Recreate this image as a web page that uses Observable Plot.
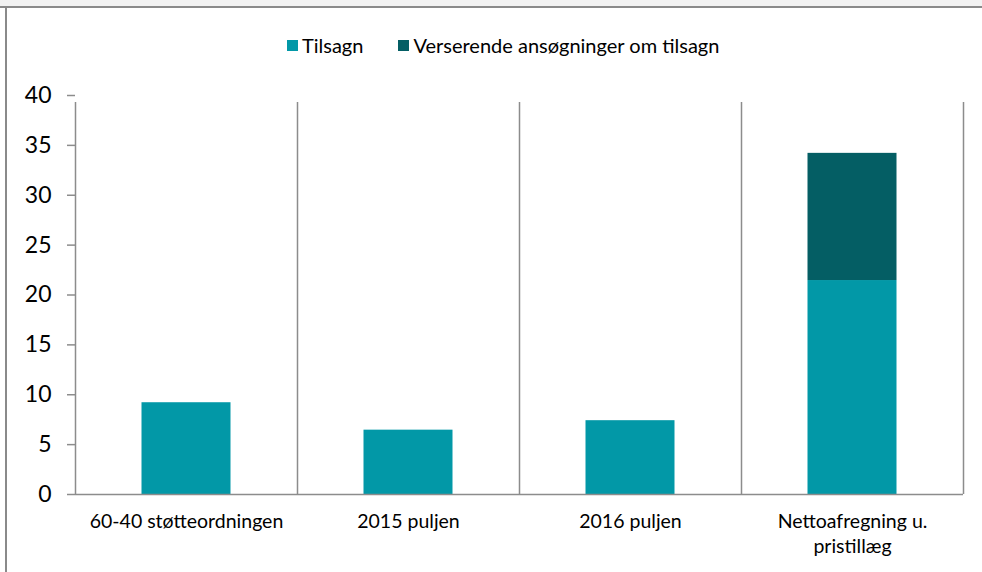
<!DOCTYPE html>
<html><head><meta charset="utf-8">
<script src="https://cdn.jsdelivr.net/npm/d3@7"></script>
<script src="https://cdn.jsdelivr.net/npm/@observablehq/plot@0.6"></script>
<style>
html,body{margin:0;padding:0;background:#fff;font-family:Lato, sans-serif;overflow:hidden;}
#wrap{position:relative;width:982px;height:572px;overflow:hidden;background:#fff;}
#band{position:absolute;left:0;top:0;width:982px;height:6px;background:#f2f2f2;border-bottom:2px solid #8a8a8a;}
#lline{position:absolute;left:5px;top:8px;width:2px;height:564px;background:#8a8a8a;}
#legend{position:absolute;top:33px;left:287px;display:flex;align-items:center;font-size:20px;color:#000;height:24px;white-space:nowrap}
#legend .item{display:flex;align-items:center;margin-right:35px}
#legend .sw{width:11px;height:11px;display:inline-block;margin-right:4px}
#chart{position:absolute;top:70px;left:0;width:982px;height:502px;overflow:hidden}
</style>
</head><body>
<div id="wrap">
  <div id="band"></div>
  <div id="lline"></div>
  <div id="legend"></div>
  <div id="chart"></div>
</div>
<script>
const categories = ["60-40 støtteordningen", "2015 puljen", "2016 puljen", "Nettoafregning u.\npristillæg"];
const seriesNames = ["Tilsagn", "Verserende ansøgninger om tilsagn"];
const seriesColors = ["#0298a7", "#045e64"];
const tilsagn = [9.2, 6.45, 7.4, 21.45];
const verserende = [0, 0, 0, 12.75];
const yTicks = [0, 5, 10, 15, 20, 25, 30, 35, 40];

const data = [];
categories.forEach((c, i) => {
  data.push({cat: c, series: seriesNames[0], value: tilsagn[i]});
  data.push({cat: c, series: seriesNames[1], value: verserende[i]});
});

const W = 982, H = 502, mL = 75, mR = 19, mT = 25, mB = 78;
const step = (W - mL - mR) / categories.length;
const grid = "#8c8c8c";

const plot = Plot.plot({
  width: W, height: H,
  marginTop: mT, marginBottom: mB, marginLeft: mL, marginRight: mR,
  style: {fontFamily: "Lato, sans-serif", color: "#000", background: "transparent"},
  x: {domain: categories, padding: 0, label: null},
  y: {domain: [0, 40], label: null},
  color: {domain: seriesNames, range: seriesColors},
  marks: [
    Plot.ruleX(categories, {dx: -step / 2, y1: 0, y2: 40, insetBottom: -7, stroke: grid, strokeWidth: 1.5}),
    Plot.ruleX([categories[categories.length - 1]], {dx: step / 2, y1: 0, y2: 40, insetBottom: -7, stroke: grid, strokeWidth: 1.5}),
    Plot.barY(data, {x: "cat", y: "value", fill: "series", insetLeft: 66.5, insetRight: 66.5}),
    Plot.ruleY([0], {stroke: grid, strokeWidth: 1.5}),
    Plot.axisY({ticks: yTicks, tickSize: 8, tickPadding: 16, fontSize: 23, stroke: grid, strokeWidth: 1.5}),
    Plot.axisX({tickSize: 0, tickPadding: 15, fontSize: 19.5, lineHeight: 1.3})
  ]
});
document.getElementById("chart").appendChild(plot);

const legend = document.getElementById("legend");
seriesNames.forEach((n, i) => {
  const it = document.createElement("span");
  it.className = "item";
  const sw = document.createElement("span");
  sw.className = "sw";
  sw.style.background = seriesColors[i];
  it.appendChild(sw);
  it.appendChild(document.createTextNode(n));
  legend.appendChild(it);
});
</script>
</body></html>
